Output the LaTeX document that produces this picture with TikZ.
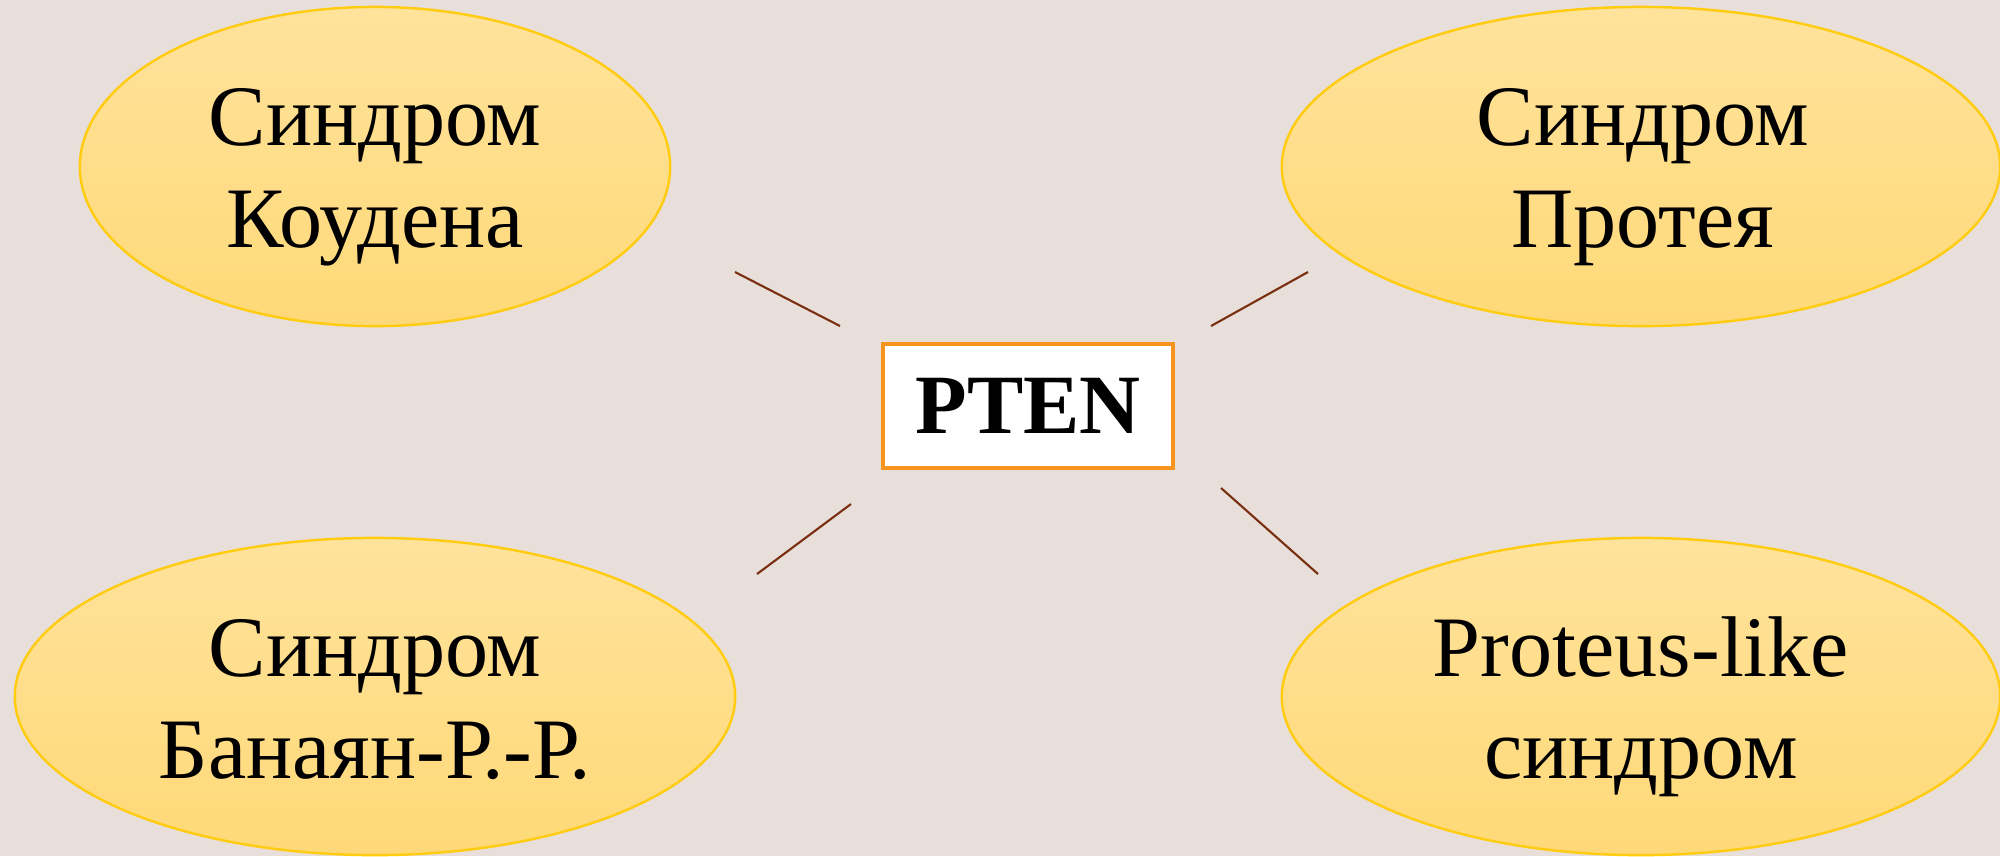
\documentclass[tikz,border=0pt]{standalone}
\usepackage{fontspec}
\setmainfont{Liberation Serif}
\usetikzlibrary{shapes.geometric}
\definecolor{bgcol}{HTML}{E8DEDA}
\definecolor{elltop}{HTML}{FFE39C}
\definecolor{ellbot}{HTML}{FFD978}
\definecolor{ellline}{HTML}{FFCC11}
\definecolor{boxline}{HTML}{F7941D}
\definecolor{conn}{HTML}{7A3010}
\tikzset{
  oval/.style={ellipse, draw=ellline, line width=0.7pt, top color=elltop, bottom color=ellbot, inner sep=0pt},
  lbl/.style={align=center, inner sep=0pt, font=\fontsize{24.5}{29}\selectfont, anchor=base},
  genebox/.style={draw=boxline, line width=1pt, fill=white, minimum width=2.9cm, minimum height=1.24cm, inner sep=0pt, font=\fontsize{24}{28}\selectfont\bfseries},
  link/.style={draw=conn, line width=0.6pt}
}
\begin{document}
\begin{tikzpicture}[x=0.01cm, y=-0.01cm]
\useasboundingbox (0,0) rectangle (2000,856);
\fill[bgcol] (0,0) rectangle (2000,856);
\node[oval, minimum width=5.9cm, minimum height=3.19cm] (tl) at (375,166.5) {};
\node[oval, minimum width=7.18cm, minimum height=3.19cm] (tr) at (1641,166.5) {};
\node[oval, minimum width=7.2cm, minimum height=3.17cm] (bl) at (375,696.5) {};
\node[oval, minimum width=7.18cm, minimum height=3.17cm] (br) at (1641,696.5) {};
\node[lbl] (tlt) at (375,247) {Синдром\\Коудена};
\node[lbl] (trt) at (1643,247) {Синдром\\Протея};
\node[lbl] (blt) at (375,778) {Синдром\\Банаян-Р.-Р.};
\node[lbl] (brt) at (1641,778) {Proteus-like\\синдром};
\node[genebox] (pten) at (1028,406) {PTEN};
\coordinate (c1a) at (735,272); \coordinate (c1b) at (840,326);
\coordinate (c2a) at (1211,326); \coordinate (c2b) at (1308,272);
\coordinate (c3a) at (851,504); \coordinate (c3b) at (757,574);
\coordinate (c4a) at (1221,488); \coordinate (c4b) at (1318,574);
\draw[link] (c1a) -- (c1b);
\draw[link] (c2a) -- (c2b);
\draw[link] (c3a) -- (c3b);
\draw[link] (c4a) -- (c4b);
\end{tikzpicture}
\end{document}
